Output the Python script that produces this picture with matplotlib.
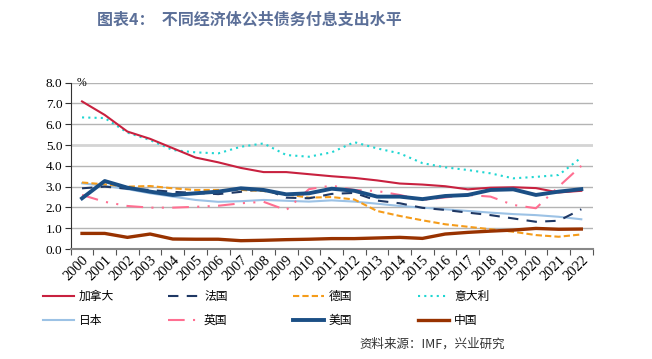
import numpy as np
import matplotlib.pyplot as plt

plt.rcParams['font.family'] = ['Noto Sans CJK SC', 'DejaVu Sans']

# ---- data ----
years = [str(y) for y in range(2000, 2023)]

canada = [7.1, 6.45, 5.65, 5.3, 4.85, 4.4, 4.17, 3.9, 3.7, 3.7, 3.6, 3.5,
          3.42, 3.3, 3.15, 3.1, 3.02, 2.87, 2.95, 2.97, 2.93, 2.72, 2.8]
france = [2.92, 3.0, 2.9, 2.84, 2.75, 2.7, 2.64, 2.75, 2.9, 2.47, 2.44, 2.65,
          2.7, 2.33, 2.2, 1.98, 1.88, 1.75, 1.63, 1.47, 1.31, 1.36, 1.91]
germany = [3.2, 3.11, 3.0, 3.03, 2.92, 2.84, 2.84, 2.84, 2.79, 2.63, 2.47, 2.5,
           2.38, 1.83, 1.59, 1.38, 1.19, 1.07, 0.95, 0.83, 0.67, 0.59, 0.7]
italy = [6.33, 6.3, 5.6, 5.24, 4.76, 4.65, 4.6, 4.92, 5.08, 4.52, 4.44, 4.65,
         5.14, 4.84, 4.6, 4.13, 3.93, 3.8, 3.64, 3.4, 3.47, 3.56, 4.4]
japan = [3.16, 3.04, 2.88, 2.68, 2.52, 2.36, 2.27, 2.3, 2.36, 2.32, 2.28, 2.34,
         2.28, 2.18, 2.07, 1.99, 1.91, 1.83, 1.75, 1.68, 1.63, 1.55, 1.43]
uk = [2.6, 2.27, 2.07, 1.99, 1.99, 2.03, 2.08, 2.2, 2.27, 1.87, 2.88, 3.05,
      2.84, 2.79, 2.6, 2.36, 2.48, 2.6, 2.52, 2.12, 1.96, 3.0, 4.0]
usa = [2.44, 3.27, 2.95, 2.76, 2.6, 2.68, 2.76, 2.92, 2.84, 2.63, 2.68, 2.9,
       2.8, 2.52, 2.52, 2.4, 2.55, 2.6, 2.84, 2.87, 2.6, 2.76, 2.88]
china = [0.75, 0.75, 0.56, 0.72, 0.48, 0.47, 0.47, 0.4, 0.42, 0.45, 0.47, 0.5,
         0.5, 0.53, 0.56, 0.51, 0.72, 0.8, 0.86, 0.91, 0.99, 0.95, 0.96]

labels = ['加拿大', '法国', '德国', '意大利', '日本', '英国', '美国', '中国']

# ---- plot ----
fig = plt.figure(figsize=(6.52, 3.59), dpi=100)
fig.patch.set_facecolor('white')
ax = fig.add_axes([0.1084, 0.3064, 0.8006, 0.4632])

x = np.arange(len(years))

# gridlines
for v in range(1, 9):
    c = '#d4d4d4' if v == 5 else '#b4b4b4'
    lw = 2.0 if v == 5 else 1.0
    ax.axhline(v, color=c, lw=lw, zorder=0)

styles = [
    (canada, dict(color='#c8213f', lw=1.5)),
    (france, dict(color='#1f3864', lw=1.5, dashes=(5, 4))),
    (germany, dict(color='#f59c1a', lw=1.5, dashes=(3, 1.5))),
    (italy, dict(color='#1fd6d2', lw=1.5, dashes=(1, 2))),
    (japan, dict(color='#9cc2e5', lw=1.5)),
    (uk, dict(color='#ff6f91', lw=1.5, dashes=(8, 4, 1, 4, 1, 4))),
    (usa, dict(color='#1b4f85', lw=2.8)),
    (china, dict(color='#983200', lw=2.4)),
]
order = [4, 5, 2, 1, 3, 0, 7, 6]
handles = [None] * 8
for i in order:
    vals, kw = styles[i]
    line, = ax.plot(x, vals, label=labels[i], zorder=3 + order.index(i), **kw)
    handles[i] = line

ax.set_xlim(-0.5, len(years) - 0.5)
ax.set_ylim(0, 8)
ax.set_yticks(np.arange(0, 8.1, 1))
ax.set_yticklabels([f'{v:.1f}' for v in np.arange(0, 8.1, 1)],
                   family='Liberation Serif', fontsize=9.5)
ax.set_xticks(np.arange(-0.5, len(years), 1))
ax.set_xticklabels([])
ax.set_xticks(x, minor=True)
ax.set_xticklabels(years, minor=True, rotation=45, ha='right',
                   rotation_mode='anchor', family='Liberation Serif', fontsize=10.5)
ax.tick_params(axis='x', which='minor', length=0, pad=3)
ax.tick_params(axis='x', which='major', length=4, color='#555555', direction='out')
ax.tick_params(axis='y', length=4, color='#333333', direction='out', pad=2)

for s in ['top', 'right']:
    ax.spines[s].set_visible(False)
ax.spines['left'].set_color('#333333')
ax.spines['bottom'].set_color('#888888')
ax.spines['bottom'].set_linewidth(1.5)

ax.text(0.012, 1.0, '%', transform=ax.transAxes, fontsize=8.5,
        family='Liberation Serif', va='center')

# legend: 4 columns, each column its own legend for even spacing
col_x = [43, 168, 293, 418]
pairs = [[0, 4], [1, 5], [2, 6], [3, 7]]
for c in range(4):
    pair = pairs[c]
    fig.legend(handles=[handles[i] for i in pair],
               labels=[labels[i] for i in pair],
               loc='upper left', bbox_to_anchor=(col_x[c] / 652, 0.193),
               frameon=False, fontsize=8.5, handlelength=2.6,
               handletextpad=0.45, labelspacing=0.95, borderpad=0,
               borderaxespad=0)

fig.text(0.663, 0.04, '资料来源：IMF，兴业研究', ha='center', va='center',
         fontsize=9, color='#333333')
fig.text(0.383, 0.945, '图表4：  不同经济体公共债务付息支出水平', ha='center',
         va='center', fontsize=11.5, fontweight='bold', color='#5b6f98')

fig.savefig('out.png', dpi=100)
